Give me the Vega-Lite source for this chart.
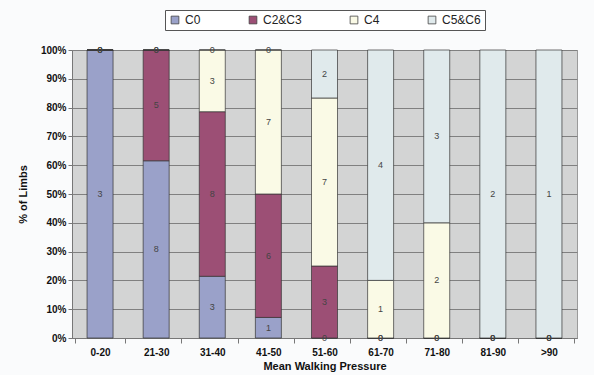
{
  "$schema": "https://vega.github.io/schema/vega-lite/v6.json",
  "width": 505,
  "height": 288,
  "autosize": {"type": "none"},
  "padding": {"left": 72, "top": 50, "right": 17, "bottom": 37},
  "background": "#fafbfc",
  "config": {
    "view": {"fill": "#d3d4d4", "stroke": "#9a9a9a"},
    "font": "Liberation Sans",
    "axisY": {
      "labelFontWeight": "bold",
      "labelFontSize": 10,
      "labelColor": "#111",
      "titleFontWeight": "bold",
      "titleFontSize": 11,
      "titleColor": "#111",
      "titlePadding": 12,
      "gridColor": "#808080",
      "gridWidth": 1,
      "domainColor": "#777",
      "tickColor": "#777",
      "tickSize": 4,
      "labelOverlap": false
    }
  },
  "data": {
    "values": [
      {"range": "0-20", "stage": "C0", "count": 3},
      {"range": "0-20", "stage": "C2&C3", "count": 0},
      {"range": "0-20", "stage": "C4", "count": 0},
      {"range": "0-20", "stage": "C5&C6", "count": 0},
      {"range": "21-30", "stage": "C0", "count": 8},
      {"range": "21-30", "stage": "C2&C3", "count": 5},
      {"range": "21-30", "stage": "C4", "count": 0},
      {"range": "21-30", "stage": "C5&C6", "count": 0},
      {"range": "31-40", "stage": "C0", "count": 3},
      {"range": "31-40", "stage": "C2&C3", "count": 8},
      {"range": "31-40", "stage": "C4", "count": 3},
      {"range": "31-40", "stage": "C5&C6", "count": 0},
      {"range": "41-50", "stage": "C0", "count": 1},
      {"range": "41-50", "stage": "C2&C3", "count": 6},
      {"range": "41-50", "stage": "C4", "count": 7},
      {"range": "41-50", "stage": "C5&C6", "count": 0},
      {"range": "51-60", "stage": "C0", "count": 0},
      {"range": "51-60", "stage": "C2&C3", "count": 3},
      {"range": "51-60", "stage": "C4", "count": 7},
      {"range": "51-60", "stage": "C5&C6", "count": 2},
      {"range": "61-70", "stage": "C0", "count": 0},
      {"range": "61-70", "stage": "C2&C3", "count": 0},
      {"range": "61-70", "stage": "C4", "count": 1},
      {"range": "61-70", "stage": "C5&C6", "count": 4},
      {"range": "71-80", "stage": "C0", "count": 0},
      {"range": "71-80", "stage": "C2&C3", "count": 0},
      {"range": "71-80", "stage": "C4", "count": 2},
      {"range": "71-80", "stage": "C5&C6", "count": 3},
      {"range": "81-90", "stage": "C0", "count": 0},
      {"range": "81-90", "stage": "C2&C3", "count": 0},
      {"range": "81-90", "stage": "C4", "count": 0},
      {"range": "81-90", "stage": "C5&C6", "count": 2},
      {"range": ">90", "stage": "C0", "count": 0},
      {"range": ">90", "stage": "C2&C3", "count": 0},
      {"range": ">90", "stage": "C4", "count": 0},
      {"range": ">90", "stage": "C5&C6", "count": 1}
    ]
  },
  "transform": [
    {"stack": "count", "groupby": ["range"], "sort": [{"field": "stage", "order": "ascending"}], "offset": "normalize", "as": ["y0", "y1"]},
    {"calculate": "(datum.y0 + datum.y1) / 2", "as": "ymid"}
  ],
  "encoding": {
    "x": {
      "field": "range",
      "type": "nominal",
      "sort": ["0-20", "21-30", "31-40", "41-50", "51-60", "61-70", "71-80", "81-90", ">90"],
      "title": "Mean Walking Pressure",
      "axis": {
        "labelAngle": 0,
        "labelFontWeight": "bold",
        "labelFontSize": 10,
        "labelColor": "#111",
        "titleFontWeight": "bold",
        "titleFontSize": 11,
        "titleColor": "#111",
        "titlePadding": 3,
        "domainColor": "#777",
        "tickColor": "#777",
        "tickBand": "extent",
        "tickSize": 5,
        "labelPadding": 4
      }
    }
  },
  "layer": [
    {
      "mark": {"type": "bar", "size": 26, "stroke": "#333", "strokeWidth": 0.7},
      "encoding": {
        "y": {
          "field": "y0",
          "type": "quantitative",
          "scale": {"domain": [0, 1]},
          "title": "% of Limbs",
          "axis": {
            "format": ".0%",
            "values": [0, 0.1, 0.2, 0.3, 0.4, 0.5, 0.6, 0.7, 0.8, 0.9, 1]
          }
        },
        "y2": {"field": "y1"},
        "color": {
          "field": "stage",
          "type": "nominal",
          "scale": {
            "domain": ["C0", "C2&C3", "C4", "C5&C6"],
            "range": ["#9aa1c9", "#9c4f75", "#fafae6", "#e0eaec"]
          },
          "legend": {
            "title": null,
            "orient": "none",
            "legendX": 93,
            "legendY": -40,
            "direction": "horizontal",
            "columns": 4,
            "symbolType": "square",
            "symbolSize": 60,
            "symbolStrokeColor": "#444",
            "symbolStrokeWidth": 0.8,
            "labelFontSize": 12,
            "labelColor": "#222",
            "columnPadding": 46,
            "gridAlign": "none",
            "strokeColor": "#555",
            "fillColor": "#ffffff",
            "padding": 4,
            "offset": 0
          }
        }
      }
    },
    {
      "mark": {"type": "text", "fontSize": 9, "color": "#444", "baseline": "middle"},
      "encoding": {
        "y": {
          "field": "ymid",
          "type": "quantitative",
          "title": "% of Limbs",
          "axis": {
            "format": ".0%",
            "values": [0, 0.1, 0.2, 0.3, 0.4, 0.5, 0.6, 0.7, 0.8, 0.9, 1]
          }
        },
        "text": {"field": "count", "type": "quantitative"}
      }
    }
  ]
}
